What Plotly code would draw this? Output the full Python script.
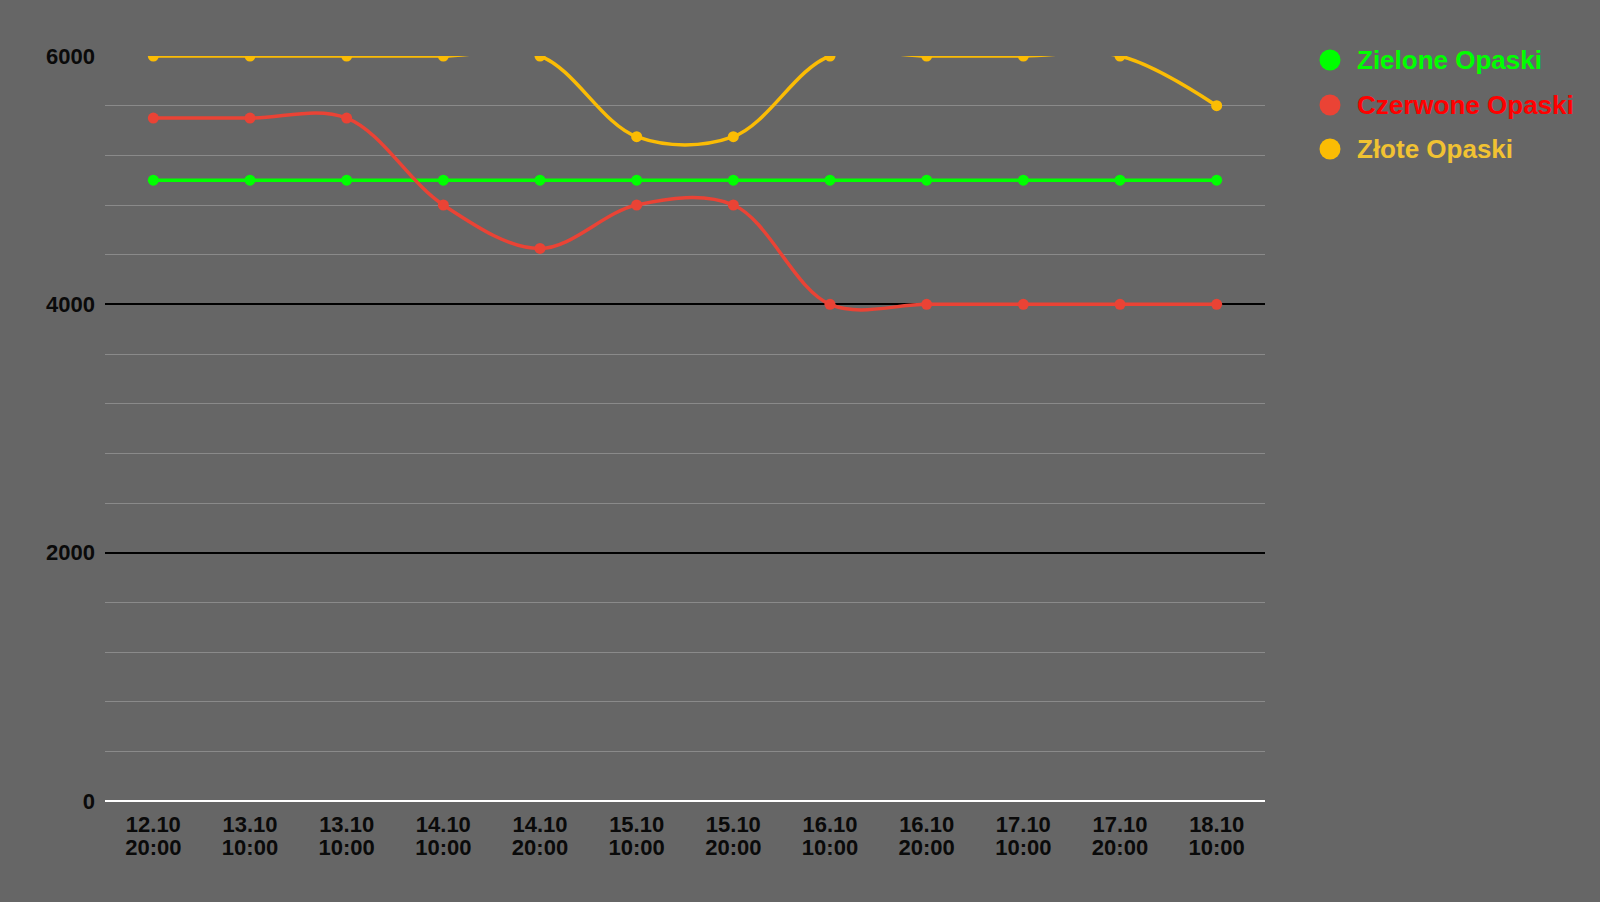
import plotly.graph_objects as go

dates = ["12.10", "13.10", "13.10", "14.10", "14.10", "15.10",
         "15.10", "16.10", "16.10", "17.10", "17.10", "18.10"]
times = ["20:00", "10:00", "10:00", "10:00", "20:00", "10:00",
         "20:00", "10:00", "20:00", "10:00", "20:00", "10:00"]
zielone = [5000, 5000, 5000, 5000, 5000, 5000, 5000, 5000, 5000, 5000, 5000, 5000]
czerwone = [5500, 5500, 5500, 4800, 4450, 4800, 4800, 4000, 4000, 4000, 4000, 4000]
zlote = [6000, 6000, 6000, 6000, 6000, 5350, 5350, 6000, 6000, 6000, 6000, 5600]

names = ["Zielone Opaski", "Czerwone Opaski", "Złote Opaski"]
line_colors = ["#00ff00", "#ea4335", "#fbbc04"]
text_colors = ["#00ff00", "#ff0000", "#f1c232"]
series = [zielone, czerwone, zlote]

xs = list(range(len(dates)))
fig = go.Figure()
for name, vals, col in zip(names, series, line_colors):
    fig.add_trace(go.Scatter(
        x=xs, y=vals, mode="lines+markers", name=name,
        line=dict(color=col, width=3.5, shape="spline", smoothing=1),
        marker=dict(color=col, size=11),
        showlegend=False))

# invisible trace to carry the second (time) row of x labels
fig.add_trace(go.Scatter(x=xs, y=zielone, xaxis="x2", mode="none",
                         showlegend=False, hoverinfo="skip"))

font_family = "Liberation Sans, Arial, sans-serif"
tickfont = dict(size=22, weight="bold", color="#0a0a0a", family=font_family)

L, R, T, B = 105, 335, 56, 101
W, H = 1600, 902
pw, ph = W - L - R, H - T - B

fig.update_layout(
    width=W, height=H,
    paper_bgcolor="#666666", plot_bgcolor="#666666",
    margin=dict(l=L, r=R, t=T, b=B),
    font=dict(family=font_family, color="#000000"),
    showlegend=False,
    xaxis=dict(
        range=[-0.5, 11.5], tickvals=xs, ticktext=dates,
        showgrid=False, zeroline=False, showline=False, ticks="",
        tickfont=tickfont, ticklabelstandoff=8),
    xaxis2=dict(
        overlaying="x", side="bottom", matches="x",
        range=[-0.5, 11.5], tickvals=xs, ticktext=times,
        showgrid=False, zeroline=False, showline=False, ticks="",
        tickfont=tickfont, ticklabelstandoff=31),
    yaxis=dict(
        range=[0, 6000], dtick=2000, tick0=0,
        showgrid=True, gridcolor="#000000", gridwidth=1.6,
        zeroline=True, zerolinecolor="#ffffff", zerolinewidth=2,
        showline=False, ticks="",
        tickfont=tickfont, ticklabelstandoff=9,
        minor=dict(dtick=400, showgrid=True, gridcolor="#8a8a8a", gridwidth=1.4)),
)

# legend drawn as circles + text
leg_x_circle = 1330
leg_x_text = 1355
leg_ys = [60, 105, 149]
for name, col, tcol, yy in zip(names, line_colors, text_colors, leg_ys):
    px = (leg_x_circle - L) / pw
    py = (H - B - yy) / ph
    fig.add_shape(type="circle", xref="paper", yref="paper",
                  xsizemode="pixel", ysizemode="pixel",
                  xanchor=px, yanchor=py, x0=-10.5, x1=10.5, y0=-10.5, y1=10.5,
                  fillcolor=col, line=dict(width=0))
    fig.add_annotation(xref="paper", yref="paper",
                       x=(leg_x_text - L) / pw, y=py, xanchor="left", yanchor="middle",
                       text=name, showarrow=False,
                       font=dict(size=26, weight="bold", color=tcol, family=font_family))

fig.write_html("out.html", config={"displayModeBar": False},
               post_script="document.body.style.margin='0';")
